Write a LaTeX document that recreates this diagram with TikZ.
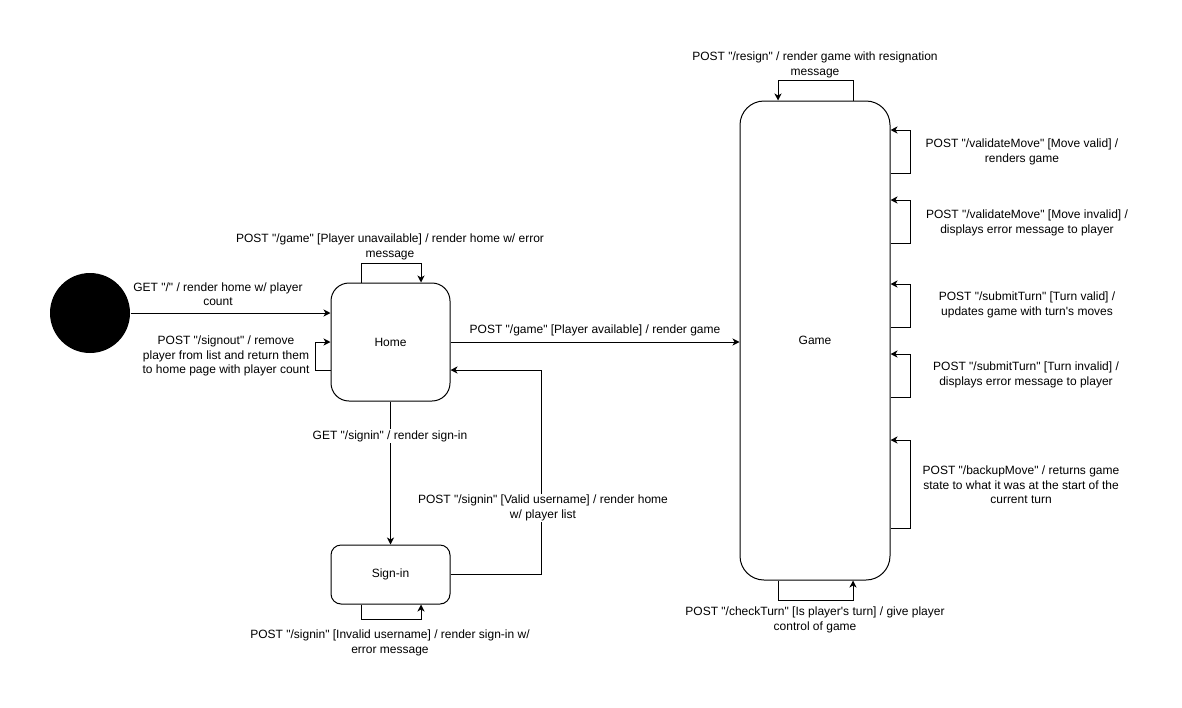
\documentclass[tikz,border=0pt]{standalone}
\usepackage{fontspec}
\setmainfont{Liberation Sans}[Ligatures=TeXOff]
\usetikzlibrary{arrows.meta,calc}
\begin{document}
\begin{tikzpicture}[x=1pt,y=-1pt,
  line width=1pt,
  state/.style={draw,fill=white,font=\fontsize{12}{14.5}\selectfont,inner sep=0pt},
  lbl/.style={font=\fontsize{12}{14.5}\selectfont,align=center,inner sep=1pt},
  arr/.style={-{Stealth[length=7pt,width=7pt,inset=2pt]}},
]
\useasboundingbox[fill=white] (0,0) rectangle (1182,707);

% states
\node[circle,fill=black,minimum size=80pt,inner sep=0pt] (init) at (90,313) {};
\node[state,rounded corners=18pt,minimum width=119pt,minimum height=118pt] (home) at (390.5,342) {Home};
\node[state,rounded corners=10pt,minimum width=119pt,minimum height=59pt] (signin) at (390.5,574.5) {Sign-in};
\node[state,rounded corners=24pt,minimum width=150pt,minimum height=479pt] (game) at (815,340.5) {Game};

% initial -> home
\draw[arr] (init.east) -- (init -| home.west);
\node[lbl] (lInit) at (218,294) {GET "/" / render home w/ player\\count};

% home self loop (top)
\draw[arr] ($(home.north)+(-29.5,0)$) -- ++(0,-19) -| ($(home.north)+(30.5,0)$);
\node[lbl] (lHomeTop) at (390,247) {POST "/game" [Player unavailable] / render home w/ error\\message};

% home self loop (left)
\draw[arr] ($(home.west)+(0,28)$) -- ++(-15,0) |- ($(home.west)+(0,0)$);
\node[lbl] (lHomeLeft) at (226,356) {POST "/signout" / remove\\player from list and return them\\to home page with player count};

% home -> game
\draw[arr] (home.east) -- (home.east -| game.west);
\node[lbl] (lGame) at (595,330) {POST "/game" [Player available] / render game};

% home -> sign-in
\draw[arr] (home.south) -- (signin.north);
\node[lbl,fill=white] (lSignin) at (390,436) {GET "/signin" / render sign-in};

% sign-in -> home
\coordinate (retTop) at (541,370);
\draw[arr] (signin.east) -| (retTop) -- (retTop -| home.east);
\node[lbl,fill=white] (lValid) at (543,508) {POST "/signin" [Valid username] / render home\\w/ player list};

% sign-in self loop (bottom)
\draw[arr] ($(signin.south)+(-29.5,0)$) -- ++(0,15) -| ($(signin.south)+(30.5,0)$);
\node[lbl] (lInvalid) at (390,643) {POST "/signin" [Invalid username] / render sign-in w/\\error message};

% game self loop (top)
\draw[arr] ($(game.north)+(38,0)$) -- ++(0,-20) -| ($(game.north)+(-37,0)$);
\node[lbl] (lResign) at (815,65) {POST "/resign" / render game with resignation\\message};

% game self loops (right)
\foreach \nm/\yt/\yb in {a/130/173, b/200/243, c/284/327, d/354/397, e/440/528}{
  \coordinate (t\nm) at (910,\yt);
  \coordinate (b\nm) at (910,\yb);
  \draw[arr] (b\nm -| game.east) -- (b\nm) -- (t\nm) -- (t\nm -| game.east);
}
\node[lbl] (lMv) at (1022,152) {POST "/validateMove" [Move valid] /\\renders game};
\node[lbl] (lMi) at (1027,223) {POST "/validateMove" [Move invalid] /\\displays error message to player};
\node[lbl] (lTv) at (1027,305) {POST "/submitTurn" [Turn valid] /\\updates game with turn's moves};
\node[lbl] (lTi) at (1026,375) {POST "/submitTurn" [Turn invalid] /\\displays error message to player};
\node[lbl] (lBk) at (1021,485) {POST "/backupMove" / returns game\\state to what it was at the start of the\\current turn};

% game self loop (bottom)
\draw[arr] ($(game.south)+(-37,0)$) -- ++(0,20) -| ($(game.south)+(38,0)$);
\node[lbl] (lCheck) at (815,620) {POST "/checkTurn" [Is player's turn] / give player\\control of game};
\end{tikzpicture}
\end{document}
